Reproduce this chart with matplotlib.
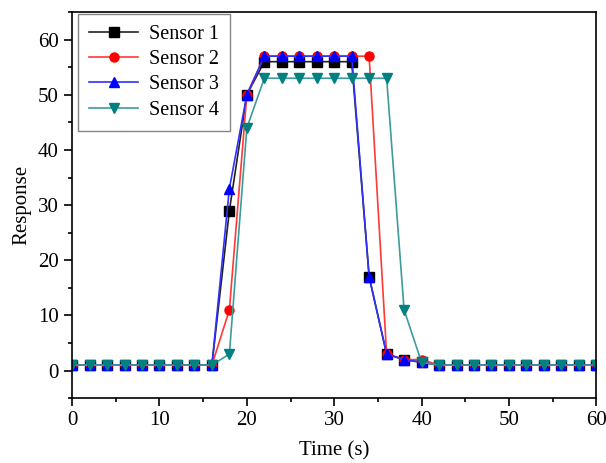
import numpy as np
import matplotlib.pyplot as plt
from matplotlib.ticker import MultipleLocator

plt.rcParams['font.family'] = ['Liberation Serif', 'DejaVu Serif']

# time axis, one reading every 2 s
time = np.arange(0, 62, 2)

sensor1 = [1, 1, 1, 1, 1, 1, 1, 1, 1, 29, 50, 56, 56, 56, 56, 56, 56, 17,
           3, 2, 1.5, 1, 1, 1, 1, 1, 1, 1, 1, 1, 1]
sensor2 = [1, 1, 1, 1, 1, 1, 1, 1, 1, 11, 50, 57, 57, 57, 57, 57, 57, 57,
           3, 2, 2, 1, 1, 1, 1, 1, 1, 1, 1, 1, 1]
sensor3 = [1, 1, 1, 1, 1, 1, 1, 1, 1, 33, 50, 57, 57, 57, 57, 57, 57, 17,
           3, 2, 1.5, 1, 1, 1, 1, 1, 1, 1, 1, 1, 1]
sensor4 = [1, 1, 1, 1, 1, 1, 1, 1, 1, 3, 44, 53, 53, 53, 53, 53, 53, 53,
           53, 11, 1.5, 1, 1, 1, 1, 1, 1, 1, 1, 1, 1]

names = ["Sensor 1", "Sensor 2", "Sensor 3", "Sensor 4"]
series = [sensor1, sensor2, sensor3, sensor4]
line_colors = ["#222222", "#ff3838", "#3030ff", "#3c9c9c"]
marker_colors = ["black", "red", "blue", "#008080"]
markers = ["s", "o", "^", "v"]

fig = plt.figure(figsize=(6.06, 4.63), dpi=100)
ax = fig.add_axes([0.119, 0.140, 0.865, 0.834])

for ys, name, lc, mc, m in zip(series, names, line_colors, marker_colors, markers):
    ax.plot(time, ys, color=lc, lw=1.2, marker=m, markersize=6.5,
            markerfacecolor=mc, markeredgecolor=mc, label=name)

ax.set_xlim(0, 60)
ax.set_ylim(-5, 65)
ax.xaxis.set_major_locator(MultipleLocator(10))
ax.xaxis.set_minor_locator(MultipleLocator(5))
ax.yaxis.set_major_locator(MultipleLocator(10))
ax.yaxis.set_minor_locator(MultipleLocator(5))
ax.tick_params(which="both", direction="out", labelsize=15, width=1.2)
ax.tick_params(which="major", length=6)
ax.tick_params(which="minor", length=3)
for s in ax.spines.values():
    s.set_linewidth(1.2)

ax.set_xlabel("Time (s)", fontsize=15, labelpad=8)
ax.set_ylabel("Response", fontsize=15, labelpad=5)

leg = ax.legend(loc="upper left", bbox_to_anchor=(0.012, 0.995), borderaxespad=0,
                fontsize=14.5, fancybox=False, edgecolor="#666666",
                handlelength=2.4, handletextpad=0.55, labelspacing=0.3,
                borderpad=0.55)
leg.get_frame().set_linewidth(1.0)

fig.savefig("out.png", dpi=100)
